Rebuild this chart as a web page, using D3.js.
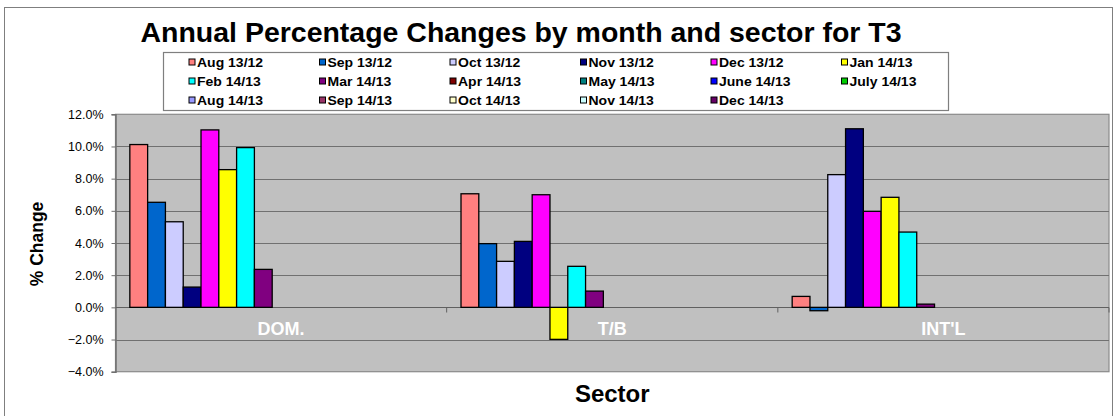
<!DOCTYPE html>
<html><head><meta charset="utf-8">
<script src="https://cdn.jsdelivr.net/npm/d3@7"></script>
<style>body{margin:0;background:#fff;}svg{display:block;font-family:"Liberation Sans",Arial,sans-serif;}</style>
</head><body>
<svg id="c" width="1115" height="416"></svg>
<script>
const sectors = ["DOM.", "T/B", "INT'L"];
const seriesNames = ["Aug 13/12","Sep 13/12","Oct 13/12","Nov 13/12","Dec 13/12","Jan 14/13",
  "Feb 14/13","Mar 14/13","Apr 14/13","May 14/13","June 14/13","July 14/13",
  "Aug 14/13","Sep 14/13","Oct 14/13","Nov 14/13","Dec 14/13"];
const seriesColors = ["#FF8080","#0066CC","#CCCCFF","#000080","#FF00FF","#FFFF00",
  "#00FFFF","#800080","#800000","#008080","#0000FF","#00CC00",
  "#9999FF","#993366","#FFFFCC","#CCFFFF","#660066"];
// values per series: [DOM., T/B, INT'L] (null = no data)
const aug1312 = [10.12, 7.06, 0.68];
const sep1312 = [6.53, 3.96, -0.21];
const oct1312 = [5.32, 2.86, 8.25];
const nov1312 = [1.26, 4.10, 11.10];
const dec1312 = [11.03, 7.00, 5.97];
const jan1413 = [8.56, -1.99, 6.84];
const feb1413 = [9.93, 2.55, 4.68];
const mar1413 = [2.36, 1.01, 0.20];
const empty = [null, null, null];
const seriesValues = [aug1312, sep1312, oct1312, nov1312, dec1312, jan1413, feb1413, mar1413,
  empty, empty, empty, empty, empty, empty, empty, empty, empty];
const yTicks = [-4, -2, 0, 2, 4, 6, 8, 10, 12];

const svg = d3.select("#c");
const L = 115.5, R = 1109, T = 114.3, B = 371.7;

// outer frame
svg.append("rect").attr("x",4.5).attr("y",7.5).attr("width",1108).attr("height",420)
  .attr("fill","#fff").attr("stroke","#7f7f7f").attr("stroke-width",1);

// title
svg.append("text").attr("x",521).attr("y",42).attr("text-anchor","middle")
  .attr("font-size",27).attr("font-weight","bold").attr("fill","#000")
  .attr("textLength",761).attr("lengthAdjust","spacingAndGlyphs")
  .text("Annual Percentage Changes by month and sector for T3");

const y = d3.scaleLinear().domain([-4,12]).range([B,T]);
const x0 = d3.scaleBand().domain(sectors).range([L,R]).padding(0);
const x1 = d3.scaleBand().domain(seriesNames).range([0,x0.bandwidth()]).paddingInner(0).paddingOuter(0.806);

// plot area
svg.append("rect").attr("x",L).attr("y",T).attr("width",R-L).attr("height",B-T)
  .attr("fill","#C0C0C0").attr("stroke","#8a8a8a").attr("stroke-width",1.2);

// gridlines
svg.append("g").selectAll("line").data(yTicks.filter(d=>d!==-4 && d!==12)).join("line")
  .attr("x1",L).attr("x2",R).attr("y1",d=>Math.round(y(d))+0.5).attr("y2",d=>Math.round(y(d))+0.5)
  .attr("stroke","#707070").attr("stroke-width",1.2);

// y axis
const yAxis = d3.axisLeft(y).tickValues(yTicks).tickSize(4).tickPadding(8)
  .tickFormat(d=>d3.format(".1f")(d)+"%");
const ga = svg.append("g").attr("transform",`translate(${L},0)`).call(yAxis);
ga.select(".domain").attr("stroke","#707070").attr("stroke-width",1.5);
ga.selectAll(".tick line").attr("stroke","#707070");
ga.selectAll(".tick text").attr("font-size",12.5).attr("fill","#000")
  .attr("font-family","'Liberation Sans',Arial,sans-serif");

// category axis line at zero with ticks
const zeroY = Math.round(y(0))+0.5;
svg.append("line").attr("x1",L).attr("x2",R).attr("y1",zeroY).attr("y2",zeroY)
  .attr("stroke","#606060").attr("stroke-width",1.2);
svg.append("g").selectAll("line").data(sectors.slice(1)).join("line")
  .attr("x1",d=>x0(d)).attr("x2",d=>x0(d)).attr("y1",zeroY).attr("y2",zeroY+5)
  .attr("stroke","#606060").attr("stroke-width",1);
svg.append("line").attr("x1",R).attr("x2",R).attr("y1",zeroY).attr("y2",zeroY+5)
  .attr("stroke","#606060").attr("stroke-width",1);

// bars
const groups = svg.append("g").selectAll("g").data(sectors).join("g")
  .attr("transform",d=>`translate(${x0(d)},0)`);
groups.selectAll("rect").data((s,si)=>seriesNames.map((n,k)=>({n,k,v:seriesValues[k][si]})).filter(d=>d.v!==null))
  .join("rect")
  .attr("x",d=>x1(d.n)).attr("width",x1.bandwidth())
  .attr("y",d=>y(Math.max(0,d.v))).attr("height",d=>Math.abs(y(d.v)-y(0)))
  .attr("fill",d=>seriesColors[d.k]).attr("stroke","#000").attr("stroke-width",1.3);

// category labels
svg.append("g").selectAll("text").data(sectors).join("text")
  .attr("x",d=>x0(d)+x0.bandwidth()/2).attr("y",335).attr("text-anchor","middle")
  .attr("font-size",18).attr("font-weight","bold").attr("fill","#fff").text(d=>d);

// axis titles
svg.append("text").attr("transform","translate(43,244) rotate(-90)").attr("text-anchor","middle")
  .attr("font-size",17.5).attr("font-weight","bold").attr("fill","#000").text("% Change");
svg.append("text").attr("x",(L+R)/2).attr("y",402).attr("text-anchor","middle")
  .attr("font-size",24).attr("font-weight","bold").attr("fill","#000").text("Sector");

// legend
const lg = svg.append("g");
lg.append("rect").attr("x",163.5).attr("y",52.5).attr("width",785).attr("height",58)
  .attr("fill","#fff").attr("stroke","#7f7f7f").attr("stroke-width",1.2);
const colX = [189, 319.5, 450, 580.5, 711, 841.5];
const rowY = [62, 81, 100];
const items = lg.selectAll("g").data(seriesNames).join("g")
  .attr("transform",(d,i)=>`translate(${colX[i%6]},${rowY[Math.floor(i/6)]})`);
items.append("rect").attr("x",0).attr("y",-3).attr("width",6).attr("height",6)
  .attr("fill",(d,i)=>seriesColors[i]).attr("stroke","#000").attr("stroke-width",1);
items.append("text").attr("transform","translate(8,4.5) scale(1.12,1)").attr("font-size",12.5).attr("font-weight","bold")
  .attr("fill","#000").text(d=>d);
</script>
</body></html>
